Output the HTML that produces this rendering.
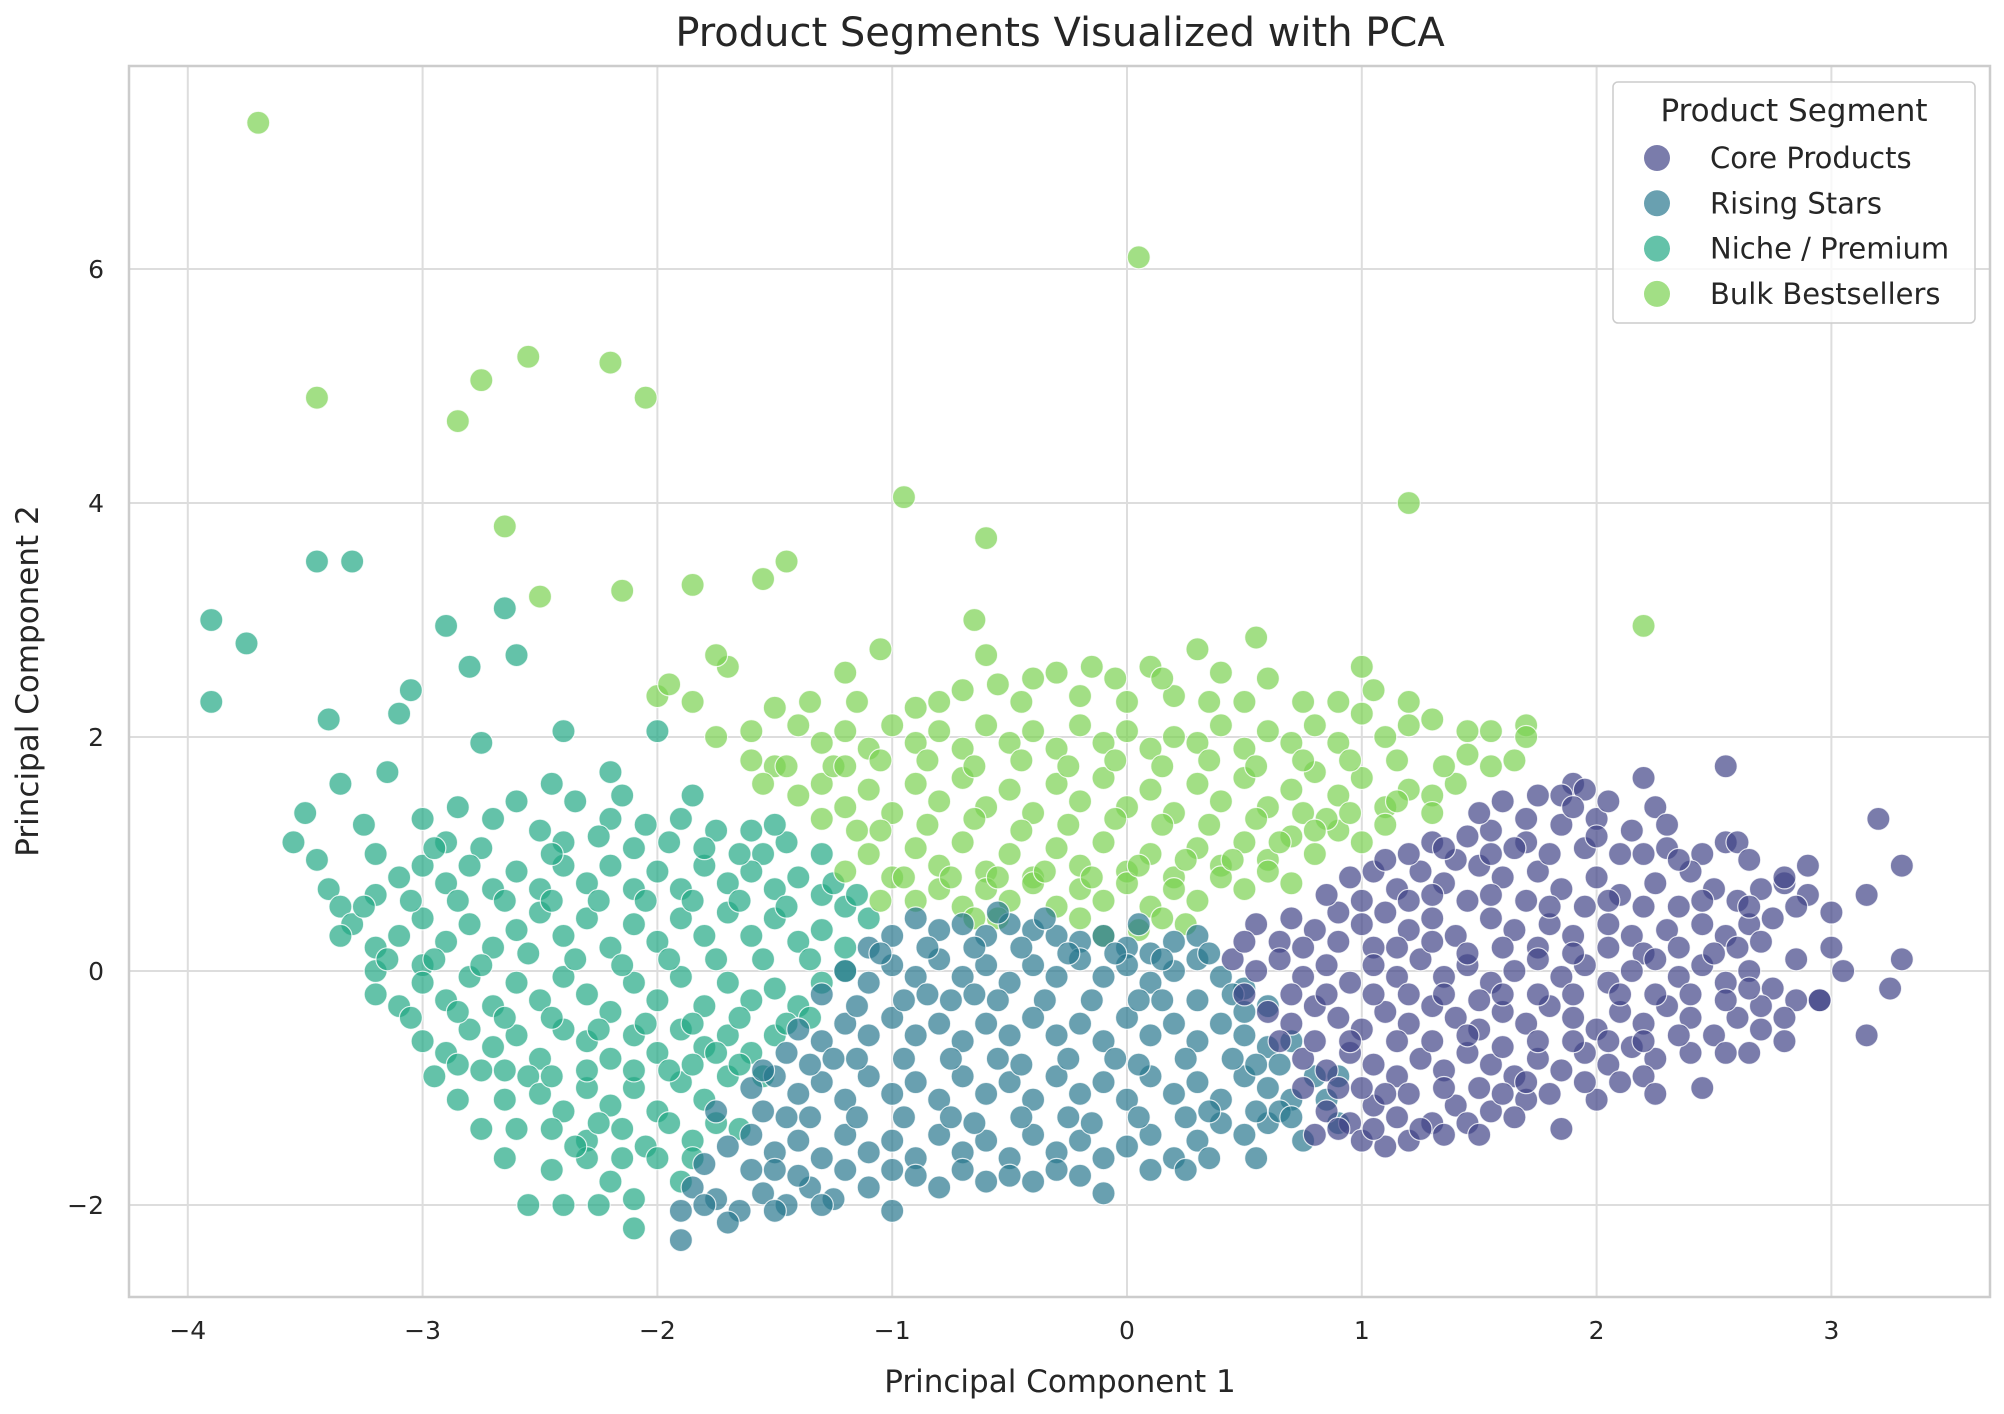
<!DOCTYPE html>
<html><head><meta charset="utf-8"><style>
html,body{margin:0;padding:0;background:#fff;}
svg{display:block;font-family:"DejaVu Sans","Liberation Sans",sans-serif;}
</style></head><body>
<svg id="chart" width="2004" height="1414" viewBox="0 0 2004 1414">
<rect x="0" y="0" width="2004" height="1414" fill="#fff"/>
<text x="1060" y="46" font-size="40" text-anchor="middle" fill="#262626">Product Segments Visualized with PCA</text>
<g id="grid"></g>
<g id="points"></g>
<rect x="129" y="66" width="1861" height="1231" fill="none" stroke="#cccccc" stroke-width="2.5"/>
<g id="ticks"></g>
<text x="1060" y="1392" font-size="31" text-anchor="middle" fill="#262626">Principal Component 1</text>
<text x="38" y="681" font-size="31" text-anchor="middle" fill="#262626" transform="rotate(-90 38 681)">Principal Component 2</text>
<g id="legend">
<rect x="1613" y="82" width="362" height="241" rx="5" fill="#fff" fill-opacity="0.8" stroke="#cccccc" stroke-width="1.5"/>
<text x="1794" y="121" font-size="31" text-anchor="middle" fill="#262626">Product Segment</text>
</g>
</svg>
<script>
const xTicks=[-4,-3,-2,-1,0,1,2,3];
const yTicks=[-2,0,2,4,6];
const segments=["Core Products","Rising Stars","Niche / Premium","Bulk Bestsellers"];
const colors=["#414487","#2a788e","#22a884","#7ad151"];
const coreXY=[1.6,1.45,1.75,1.5,1.9,1.6,1.95,1.55,2.2,1.65,1.85,1.5,1.3,1.1,1.45,1.15,1.55,1.2,1.7,1.1,1.85,1.25,2.0,1.3,2.15,1.2,2.25,1.4,1.4,0.95,1.65,1.05,1.95,1.05,2.1,1.0,2.3,1.05,2.45,1.0,2.55,1.1,2.2,1.0,
0.95,0.8,1.05,0.85,1.15,0.7,1.25,0.85,1.35,0.75,1.5,0.9,1.6,0.8,1.75,0.85,1.85,0.7,2.0,0.8,2.1,0.65,2.25,0.75,2.4,0.85,2.5,0.7,2.6,0.6,2.7,0.7,2.8,0.75,2.9,0.65,1.1,0.95,1.45,0.6,1.7,0.6,1.95,0.55,2.35,0.55,2.75,0.45,
0.55,0.4,0.7,0.45,0.8,0.35,0.9,0.5,1.0,0.4,1.1,0.5,1.2,0.35,1.3,0.45,1.4,0.3,1.55,0.45,1.65,0.35,1.8,0.4,1.9,0.3,2.05,0.4,2.15,0.3,2.3,0.35,2.45,0.4,2.55,0.3,2.65,0.4,0.65,0.25,1.05,0.2,1.75,0.2,2.2,0.15,
0.45,0.1,0.55,0.0,0.65,0.1,0.75,-0.05,0.85,0.05,0.95,-0.1,1.05,0.05,1.15,-0.05,1.25,0.1,1.35,-0.05,1.45,0.05,1.55,-0.1,1.65,0.0,1.75,0.1,1.85,-0.05,1.95,0.05,2.05,-0.1,2.15,0.0,2.25,0.1,2.35,-0.05,2.45,0.05,2.55,-0.1,2.65,0.0,2.75,-0.15,2.85,-0.25,2.95,-0.25,2.7,0.25,
0.6,-0.35,0.7,-0.45,0.8,-0.3,0.9,-0.4,1.0,-0.5,1.1,-0.35,1.2,-0.45,1.3,-0.3,1.4,-0.4,1.5,-0.5,1.6,-0.35,1.7,-0.45,1.8,-0.3,1.9,-0.4,2.0,-0.5,2.1,-0.35,2.2,-0.45,2.3,-0.3,2.4,-0.4,2.5,-0.55,2.6,-0.4,2.7,-0.5,2.8,-0.6,1.05,-0.2,1.6,-0.2,2.25,-0.2,
0.75,-0.75,0.85,-0.85,0.95,-0.7,1.05,-0.8,1.15,-0.9,1.25,-0.75,1.35,-0.85,1.45,-0.7,1.55,-0.8,1.65,-0.9,1.75,-0.75,1.85,-0.85,1.95,-0.7,2.05,-0.8,2.15,-0.65,2.25,-0.75,2.4,-0.7,0.9,-1.0,1.2,-1.05,1.5,-1.0,1.8,-1.05,2.1,-0.95,
0.85,-1.2,0.95,-1.3,1.05,-1.15,1.15,-1.25,1.3,-1.3,1.4,-1.15,1.55,-1.2,1.7,-1.1,1.85,-1.35,0.8,-1.4,1.0,-1.45,1.1,-1.5,1.2,-1.45,1.35,-1.4,2.2,-0.9,2.45,-1.0,2.0,-1.1,
3.2,1.3,3.3,0.9,3.3,0.1,3.25,-0.15,3.15,-0.55,3.15,0.65,2.55,1.75,2.6,1.1,2.95,-0.25,2.8,0.8,2.7,-0.3,3.0,0.2];
const coreXY2=[1.5,1.35,1.7,1.3,1.9,1.4,2.05,1.45,2.3,1.25,
1.2,1.0,1.35,1.05,1.55,1.0,1.8,1.0,2.0,1.15,2.35,0.95,2.65,0.95,2.9,0.9,
0.85,0.65,1.0,0.6,1.2,0.6,1.3,0.65,1.55,0.65,1.8,0.55,2.05,0.6,2.2,0.55,2.45,0.6,2.65,0.55,2.85,0.55,3.0,0.5,
0.5,0.25,0.75,0.2,0.9,0.25,1.15,0.2,1.3,0.25,1.45,0.15,1.6,0.2,1.9,0.15,2.05,0.2,2.35,0.2,2.5,0.15,2.6,0.2,2.85,0.1,3.05,0.0,
0.5,-0.2,0.7,-0.2,0.85,-0.2,1.2,-0.2,1.35,-0.2,1.5,-0.25,1.75,-0.2,1.9,-0.2,2.1,-0.2,2.4,-0.2,2.55,-0.25,2.8,-0.4,2.65,-0.15,
0.65,-0.6,0.8,-0.6,0.95,-0.6,1.15,-0.6,1.3,-0.6,1.45,-0.55,1.6,-0.65,1.75,-0.6,1.9,-0.6,2.05,-0.6,2.2,-0.6,2.35,-0.55,2.55,-0.7,2.65,-0.7,
0.75,-1.0,1.0,-1.0,1.1,-1.05,1.35,-1.0,1.6,-1.05,1.7,-0.95,1.95,-0.95,2.25,-1.05,
0.9,-1.35,1.05,-1.35,1.25,-1.35,1.45,-1.3,1.65,-1.25,1.5,-1.4];
const risingXY=[-1.0,0.3,-0.9,0.45,-0.8,0.35,-0.7,0.4,-0.6,0.3,-0.5,0.4,-0.4,0.35,-0.3,0.3,-0.2,0.25,-0.1,0.3,0.0,0.2,0.1,0.15,0.2,0.25,0.3,0.3,-1.1,0.2,
-1.2,0.0,-1.1,-0.1,-1.0,0.05,-0.9,-0.05,-0.8,0.1,-0.7,-0.05,-0.6,0.05,-0.5,-0.1,-0.4,0.05,-0.3,-0.05,-0.2,0.1,-0.1,-0.05,0.0,0.05,0.1,-0.1,0.2,0.0,0.3,0.1,0.4,-0.05,0.5,-0.15,-1.3,-0.2,-0.85,-0.2,-0.35,-0.25,0.15,-0.25,
-1.4,-0.5,-1.3,-0.6,-1.2,-0.45,-1.1,-0.55,-1.0,-0.4,-0.9,-0.55,-0.8,-0.45,-0.7,-0.6,-0.6,-0.45,-0.5,-0.55,-0.4,-0.4,-0.3,-0.55,-0.2,-0.45,-0.1,-0.6,0.0,-0.4,0.1,-0.55,0.2,-0.45,0.3,-0.6,0.4,-0.45,0.5,-0.55,0.6,-0.65,
-1.6,-1.0,-1.5,-0.9,-1.4,-1.05,-1.3,-0.95,-1.2,-1.1,-1.1,-0.9,-1.0,-1.05,-0.9,-0.95,-0.8,-1.1,-0.7,-0.9,-0.6,-1.05,-0.5,-0.95,-0.4,-1.1,-0.3,-0.9,-0.2,-1.05,-0.1,-0.95,0.0,-1.1,0.1,-0.9,0.2,-1.05,0.3,-0.95,0.4,-1.1,0.5,-0.9,0.6,-1.0,0.7,-1.1,-0.75,-0.75,-0.25,-0.75,0.25,-0.75,-1.25,-0.75,
-1.7,-1.5,-1.6,-1.4,-1.5,-1.55,-1.4,-1.45,-1.3,-1.6,-1.2,-1.4,-1.1,-1.55,-1.0,-1.45,-0.9,-1.6,-0.8,-1.4,-0.7,-1.55,-0.6,-1.45,-0.5,-1.6,-0.4,-1.4,-0.3,-1.55,-0.2,-1.45,-0.1,-1.6,0.0,-1.5,0.1,-1.4,0.2,-1.6,0.3,-1.45,0.4,-1.3,0.5,-1.4,0.6,-1.3,0.75,-1.45,-1.45,-1.25,-0.95,-1.25,-0.45,-1.25,0.05,-1.25,
-1.9,-2.05,-1.85,-1.85,-1.75,-1.95,-1.65,-2.05,-1.55,-1.9,-1.45,-2.0,-1.35,-1.85,-1.25,-1.95,-1.1,-1.85,-1.0,-2.05,-0.8,-1.85,-0.6,-1.8,-0.4,-1.8,-0.1,-1.9,-1.6,-1.7,-1.2,-1.7,-0.7,-1.7,-1.9,-2.3,-1.7,-2.15,0.1,-1.7,0.55,-1.6,
0.7,-0.6,0.8,-0.9,0.9,-1.3,0.85,-1.1,0.65,-1.2,0.55,-0.8,0.45,-0.2,0.6,-0.3,0.9,-0.9];
const risingXY2=[-1.05,0.15,-0.85,0.2,-0.65,0.2,-0.45,0.2,-0.25,0.15,-0.05,0.15,0.15,0.1,0.35,0.15,-0.55,0.5,-0.35,0.45,0.05,0.4,
-1.15,-0.3,-0.95,-0.25,-0.75,-0.25,-0.55,-0.25,-0.15,-0.25,0.05,-0.25,0.3,-0.25,0.5,-0.35,-0.65,-0.2,
-1.45,-0.7,-1.35,-0.8,-1.15,-0.75,-0.95,-0.75,-0.55,-0.75,-0.45,-0.8,-0.05,-0.75,0.05,-0.8,0.45,-0.75,0.65,-0.8,-1.55,-0.85,
-1.75,-1.2,-1.55,-1.2,-1.35,-1.25,-1.15,-1.25,-0.75,-1.25,-0.65,-1.3,-0.25,-1.25,-0.15,-1.3,0.25,-1.25,0.35,-1.2,0.55,-1.2,0.7,-1.25,
-1.8,-1.65,-1.5,-1.7,-1.4,-1.75,-1.0,-1.7,-0.9,-1.75,-0.5,-1.75,-0.3,-1.7,-0.2,-1.75,0.25,-1.7,0.35,-1.6,-1.8,-2.0,-1.5,-2.05,-1.3,-2.0];
const nicheXY=[-3.9,3.0,-3.9,2.3,-3.75,2.8,-3.45,3.5,-3.3,3.5,-3.4,2.15,-2.65,3.1,-2.6,2.7,-2.9,2.95,-2.8,2.6,-3.05,2.4,-3.1,2.2,-2.75,1.95,-2.4,2.05,-2.0,2.05,-3.35,1.6,-3.15,1.7,-3.5,1.35,-2.85,1.4,-2.2,1.7,
-3.55,1.1,-3.25,1.25,-3.0,1.3,-2.9,1.1,-2.6,1.45,-2.5,1.2,-2.35,1.45,-2.2,1.3,-2.05,1.25,-1.9,1.3,-1.75,1.2,-1.6,1.2,-1.45,1.1,-2.75,1.05,-2.1,1.05,-1.55,1.0,-1.3,1.0,-2.4,1.1,
-3.4,0.7,-3.2,0.65,-3.1,0.8,-3.0,0.9,-2.9,0.75,-2.8,0.9,-2.7,0.7,-2.6,0.85,-2.5,0.7,-2.4,0.9,-2.3,0.75,-2.2,0.9,-2.1,0.7,-2.0,0.85,-1.9,0.7,-1.8,0.9,-1.7,0.75,-1.6,0.85,-1.5,0.7,-1.4,0.8,-1.3,0.65,-1.2,0.55,-3.35,0.55,
-3.3,0.4,-3.2,0.2,-3.1,0.3,-3.0,0.45,-2.9,0.25,-2.8,0.4,-2.7,0.2,-2.6,0.35,-2.5,0.5,-2.4,0.3,-2.3,0.45,-2.2,0.2,-2.1,0.4,-2.0,0.25,-1.9,0.45,-1.8,0.3,-1.7,0.5,-1.6,0.3,-1.5,0.45,-1.4,0.25,-1.3,0.35,-1.2,0.2,-1.1,0.45,-3.2,0.0,-3.0,0.05,
-3.2,-0.2,-3.1,-0.3,-3.0,-0.1,-2.9,-0.25,-2.8,-0.05,-2.7,-0.3,-2.6,-0.1,-2.5,-0.25,-2.4,-0.05,-2.3,-0.2,-2.2,-0.35,-2.1,-0.1,-2.0,-0.25,-1.9,-0.05,-1.8,-0.3,-1.7,-0.1,-1.6,-0.25,-1.5,-0.15,-1.4,-0.3,-1.3,-0.1,
-3.0,-0.6,-2.9,-0.7,-2.8,-0.5,-2.7,-0.65,-2.6,-0.55,-2.5,-0.75,-2.4,-0.5,-2.3,-0.6,-2.2,-0.75,-2.1,-0.55,-2.0,-0.7,-1.9,-0.5,-1.8,-0.65,-1.7,-0.55,-1.6,-0.7,-1.5,-0.55,-2.95,-0.9,-2.75,-0.85,-2.55,-0.9,
-2.85,-1.1,-2.75,-1.35,-2.65,-1.1,-2.6,-1.35,-2.5,-1.05,-2.4,-1.2,-2.3,-1.0,-2.2,-1.15,-2.1,-1.0,-2.0,-1.2,-1.9,-0.95,-1.8,-1.1,-1.7,-0.9,-1.65,-1.35,-2.65,-1.6,-2.3,-1.45,-2.15,-1.35,-2.05,-1.5,-1.85,-1.45,-1.95,-0.85,
-2.55,-2.0,-2.4,-2.0,-2.25,-2.0,-2.1,-1.95,-2.1,-2.2,-2.2,-1.8,-1.9,-1.8,-2.3,-1.6,-2.0,-1.6];
const nicheXY2=[-3.45,0.95,-3.2,1.0,-2.95,1.05,-2.7,1.3,-2.45,1.0,-2.25,1.15,-1.95,1.1,-1.8,1.05,-1.65,1.0,-1.85,1.5,-2.15,1.5,-2.45,1.6,-1.5,1.25,
-3.25,0.55,-3.05,0.6,-2.85,0.6,-2.65,0.6,-2.45,0.6,-2.25,0.6,-2.05,0.6,-1.85,0.6,-1.65,0.6,-1.45,0.55,-1.25,0.75,-1.15,0.65,
-3.15,0.1,-2.95,0.1,-2.75,0.05,-2.55,0.15,-2.35,0.1,-2.15,0.05,-1.95,0.1,-1.75,0.1,-1.55,0.1,-1.35,0.1,-1.2,0.0,-3.35,0.3,
-3.05,-0.4,-2.85,-0.35,-2.65,-0.4,-2.45,-0.4,-2.25,-0.5,-2.05,-0.45,-1.85,-0.45,-1.65,-0.4,-1.45,-0.45,-1.35,-0.4,
-2.85,-0.8,-2.65,-0.85,-2.45,-0.9,-2.3,-0.85,-2.1,-0.85,-1.85,-0.8,-1.65,-0.8,-1.55,-0.9,-1.75,-0.7,
-2.45,-1.35,-2.35,-1.5,-2.25,-1.3,-1.95,-1.3,-1.75,-1.3,-2.45,-1.7,-2.15,-1.6,-1.85,-1.6];
const bulkXY=[-3.7,7.25,0.05,6.1,-3.45,4.9,-2.75,5.05,-2.55,5.25,-2.2,5.2,-2.05,4.9,-2.85,4.7,-2.65,3.8,-0.95,4.05,1.2,4.0,-0.6,3.7,-1.45,3.5,-1.55,3.35,-2.5,3.2,-2.15,3.25,-1.85,3.3,2.2,2.95,-0.65,3.0,
-2.0,2.35,-1.95,2.45,-1.85,2.3,-1.7,2.6,-1.75,2.7,-1.2,2.55,-1.05,2.75,-0.9,2.25,-0.6,2.7,-0.55,2.45,-0.4,2.5,-0.3,2.55,-0.15,2.6,-0.05,2.5,0.1,2.6,0.2,2.35,0.3,2.75,0.4,2.55,0.55,2.85,0.6,2.5,1.0,2.6,1.05,2.4,-0.7,2.4,
-1.75,2.0,-1.6,2.05,-1.5,1.75,-1.4,2.1,-1.3,1.95,-1.2,2.05,-1.1,1.9,-1.0,2.1,-0.9,1.95,-0.8,2.05,-0.7,1.9,-0.6,2.1,-0.5,1.95,-0.4,2.05,-0.3,1.9,-0.2,2.1,-0.1,1.95,0.0,2.05,0.1,1.9,0.2,2.0,0.3,1.95,0.4,2.1,0.5,1.9,0.6,2.05,0.7,1.95,0.8,2.1,0.9,1.95,1.0,2.2,1.1,2.0,1.2,2.1,1.3,2.15,1.45,2.05,1.55,2.05,1.7,2.1,1.7,2.0,-1.55,1.6,
-1.4,1.5,-1.3,1.6,-1.2,1.4,-1.1,1.55,-1.0,1.35,-0.9,1.6,-0.8,1.45,-0.7,1.65,-0.6,1.4,-0.5,1.55,-0.4,1.35,-0.3,1.6,-0.2,1.45,-0.1,1.65,0.0,1.4,0.1,1.55,0.2,1.35,0.3,1.6,0.4,1.45,0.5,1.65,0.6,1.4,0.7,1.55,0.8,1.7,0.9,1.5,1.0,1.65,1.1,1.4,1.2,1.55,1.3,1.5,1.4,1.6,1.55,1.75,1.65,1.8,-1.25,1.75,
-1.2,0.85,-1.1,1.0,-1.0,0.8,-0.9,1.05,-0.8,0.9,-0.7,1.1,-0.6,0.85,-0.5,1.0,-0.4,0.8,-0.3,1.05,-0.2,0.9,-0.1,1.1,0.0,0.85,0.1,1.0,0.2,0.8,0.3,1.05,0.4,0.9,0.5,1.1,0.6,0.95,0.7,1.15,0.8,1.0,0.9,1.2,1.0,1.1,1.1,1.25,-1.15,1.2,0.85,1.3,
-0.9,0.6,-0.8,0.7,-0.7,0.55,-0.6,0.7,-0.5,0.6,-0.4,0.75,-0.3,0.55,-0.2,0.7,-0.1,0.6,0.0,0.75,0.1,0.55,0.2,0.7,0.3,0.6,0.4,0.8,0.5,0.7,0.6,0.85,0.7,0.75,-0.55,0.45,-0.2,0.45,0.05,0.35,0.25,0.4,-0.1,0.3];
const bulkXY2=[-1.5,2.25,-1.35,2.3,-1.15,2.3,-0.8,2.3,-0.45,2.3,-0.2,2.35,0.0,2.3,0.35,2.3,0.5,2.3,0.75,2.3,0.9,2.3,1.2,2.3,0.15,2.5,
-1.6,1.8,-1.45,1.75,-1.2,1.75,-1.05,1.8,-0.85,1.8,-0.65,1.75,-0.45,1.8,-0.25,1.75,-0.05,1.8,0.15,1.75,0.35,1.8,0.55,1.75,0.75,1.8,0.95,1.8,1.15,1.8,1.35,1.75,1.45,1.85,
-1.3,1.3,-1.05,1.2,-0.85,1.25,-0.65,1.3,-0.45,1.2,-0.25,1.25,-0.05,1.3,0.15,1.25,0.35,1.25,0.55,1.3,0.75,1.35,0.95,1.35,1.15,1.45,1.3,1.35,
-1.05,0.6,-0.95,0.8,-0.75,0.8,-0.55,0.8,-0.35,0.85,-0.15,0.8,0.05,0.9,0.25,0.95,0.45,0.95,0.65,1.1,0.8,1.2,-0.65,0.45,0.15,0.45];

const NS='http://www.w3.org/2000/svg';
const X0=1127, XU=234.8, Y0=971, YU=117;
function sx(v){return X0+v*XU;}
function sy(v){return Y0-v*YU;}
const grid=document.getElementById('grid'), ticks=document.getElementById('ticks'), pts=document.getElementById('points'), legend=document.getElementById('legend');
xTicks.forEach(t=>{
  const l=document.createElementNS(NS,'line');
  l.setAttribute('x1',sx(t));l.setAttribute('x2',sx(t));l.setAttribute('y1',66);l.setAttribute('y2',1297);
  l.setAttribute('stroke','#dddddd');l.setAttribute('stroke-width','2');
  
  
  grid.appendChild(l);
  const tx=document.createElementNS(NS,'text');
  tx.setAttribute('x',sx(t));tx.setAttribute('y',1339);tx.setAttribute('font-size','25');tx.setAttribute('text-anchor','middle');tx.setAttribute('fill','#262626');
  tx.textContent=String(t).replace('-','\u2212');
  
  
  ticks.appendChild(tx);
});
yTicks.forEach(t=>{
  const l=document.createElementNS(NS,'line');
  l.setAttribute('x1',129);l.setAttribute('x2',1990);l.setAttribute('y1',sy(t));l.setAttribute('y2',sy(t));
  l.setAttribute('stroke','#dddddd');l.setAttribute('stroke-width','2');
  
  
  grid.appendChild(l);
  const tx=document.createElementNS(NS,'text');
  tx.setAttribute('x',104);tx.setAttribute('y',sy(t)+9);tx.setAttribute('font-size','25');tx.setAttribute('text-anchor','end');tx.setAttribute('fill','#262626');
  tx.textContent=String(t).replace('-','\u2212');
  
  
  ticks.appendChild(tx);
});
const series=[[nicheXY,2],[nicheXY2,2],[bulkXY,3],[bulkXY2,3],[risingXY,1],[risingXY2,1],[coreXY,0],[coreXY2,0]];
series.forEach(([arr,ci])=>{
  for(let i=0;i+1<arr.length;i+=2){
    const c=document.createElementNS(NS,'circle');
    c.setAttribute('cx',sx(arr[i]));c.setAttribute('cy',sy(arr[i+1]));c.setAttribute('r','11.5');
    c.setAttribute('fill',colors[ci]);c.setAttribute('fill-opacity','0.7');c.setAttribute('stroke','#fff');c.setAttribute('stroke-opacity','0.8');c.setAttribute('stroke-width','1.2');
    
    
    pts.appendChild(c);
  }
});
segments.forEach((s,i)=>{
  const y=158+i*45.3;
  const c=document.createElementNS(NS,'circle');
  c.setAttribute('cx',1657);c.setAttribute('cy',y);c.setAttribute('r','13');c.setAttribute('fill',colors[i]);c.setAttribute('fill-opacity','0.7');
  
  
  legend.appendChild(c);
  const t=document.createElementNS(NS,'text');
  t.setAttribute('x',1710);t.setAttribute('y',y+10);t.setAttribute('font-size','29');t.setAttribute('fill','#262626');
  t.textContent=s;
  
  
  legend.appendChild(t);
});
</script>
</body></html>
